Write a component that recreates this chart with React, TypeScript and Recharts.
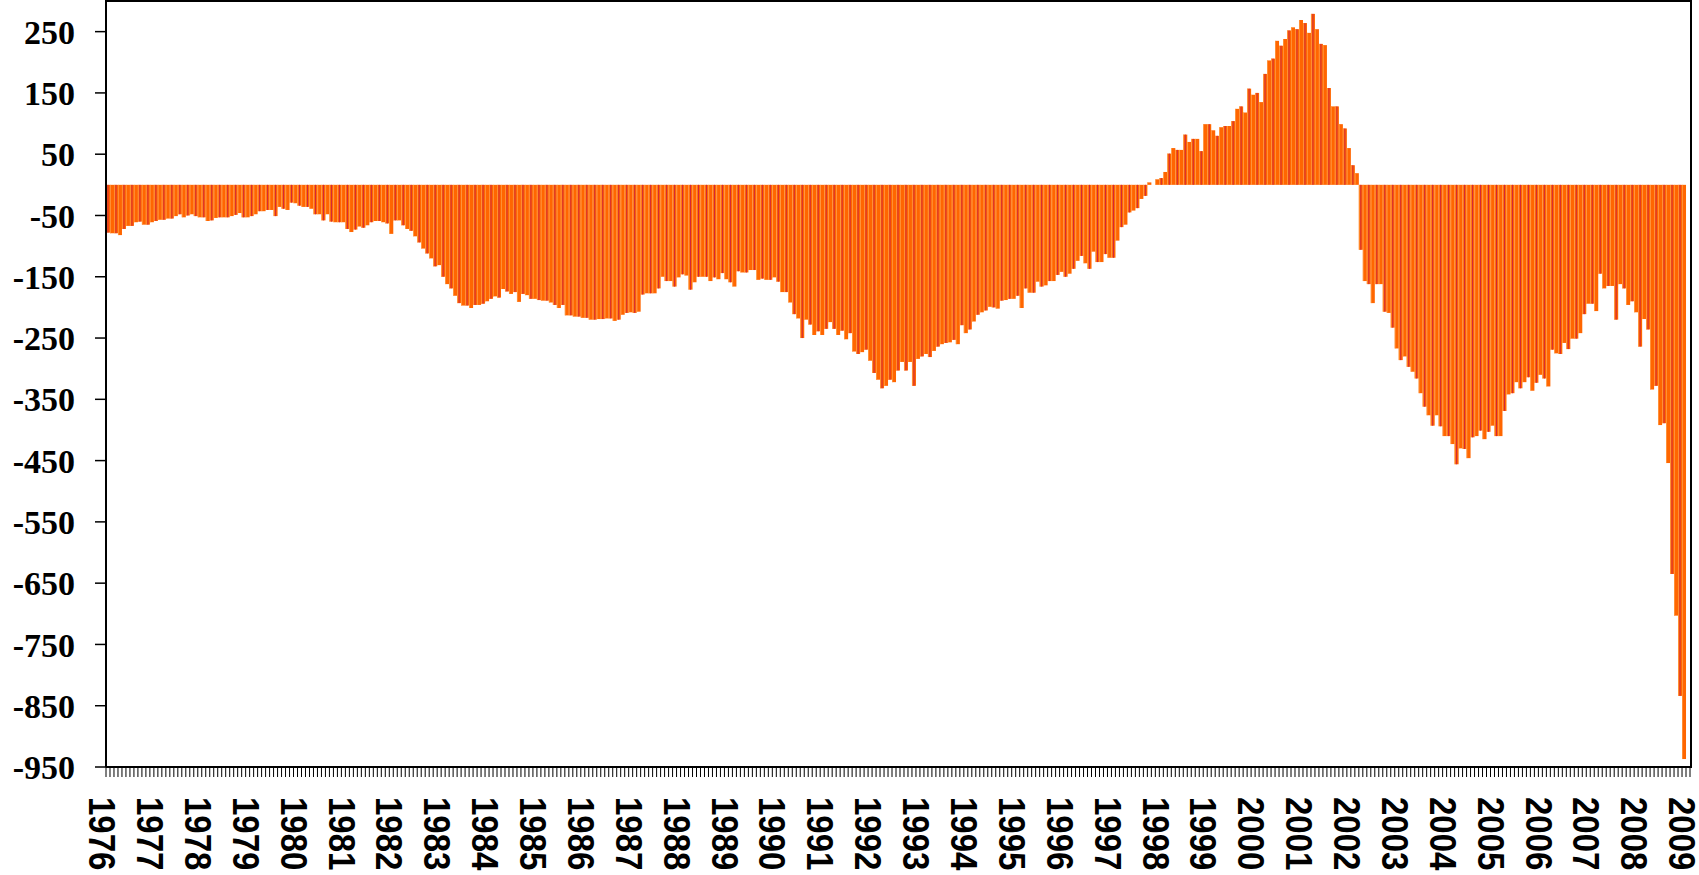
import React from 'react';
import { BarChart, Bar, XAxis, YAxis } from 'recharts';

// monthly values, Jan 1976 .. Dec 2008 (Jan 2009 has no bar)
const v1976to1981 = [
  -78, -79, -79, -82, -72, -67, -67, -61, -60, -65, -65, -61,
  -59, -57, -57, -55, -55, -51, -48, -53, -50, -48, -51, -53,
  -53, -59, -58, -54, -53, -53, -53, -51, -49, -46, -53, -53,
  -51, -48, -43, -43, -41, -41, -51, -36, -39, -41, -29, -30,
  -34, -36, -36, -39, -48, -48, -58, -48, -60, -61, -61, -61,
  -72, -77, -73, -68, -70, -66, -61, -59, -59, -61, -63, -80,
];
const v1982to1987 = [
  -58, -58, -66, -72, -75, -84, -94, -104, -112, -120, -133, -131,
  -150, -162, -169, -181, -193, -197, -197, -201, -196, -196, -194, -190,
  -186, -182, -184, -170, -174, -178, -175, -191, -178, -180, -186, -186,
  -188, -189, -189, -192, -196, -201, -196, -213, -213, -215, -215, -217,
  -217, -220, -220, -219, -219, -218, -218, -222, -220, -212, -209, -208,
  -209, -207, -179, -177, -177, -177, -169, -150, -157, -157, -166, -151,
];
const v1988to1993 = [
  -146, -148, -171, -159, -150, -150, -150, -157, -151, -154, -144, -154,
  -159, -166, -141, -143, -143, -139, -139, -155, -153, -155, -155, -151,
  -158, -175, -175, -192, -211, -218, -250, -220, -228, -245, -239, -245,
  -235, -224, -235, -245, -238, -252, -242, -272, -276, -273, -269, -287,
  -307, -318, -332, -328, -318, -322, -303, -289, -303, -289, -328, -284,
  -280, -276, -281, -271, -264, -260, -258, -257, -253, -260, -229, -242,
];
const v1994to1999 = [
  -236, -223, -212, -208, -205, -199, -200, -202, -189, -188, -186, -186,
  -181, -201, -169, -176, -176, -158, -166, -164, -157, -157, -147, -142,
  -150, -145, -137, -124, -116, -128, -137, -109, -126, -126, -113, -119,
  -119, -91, -69, -65, -45, -42, -38, -23, -18, 4, 0, 9,
  11, 21, 51, 60, 57, 57, 82, 70, 75, 75, 55, 99,
  99, 89, 80, 94, 96, 96, 104, 124, 128, 118, 157, 147,
];
const v2000to2005 = [
  150, 135, 181, 203, 206, 235, 227, 238, 252, 257, 254, 269,
  264, 248, 279, 254, 230, 228, 158, 128, 128, 99, 92, 60,
  32, 19, -106, -157, -162, -193, -162, -162, -207, -209, -233, -267,
  -286, -280, -297, -305, -316, -340, -362, -376, -393, -376, -394, -410,
  -410, -423, -456, -430, -431, -446, -412, -410, -401, -415, -403, -393,
  -410, -410, -369, -342, -340, -322, -332, -322, -314, -336, -323, -310,
];
const v2006to2008 = [
  -316, -329, -269, -275, -276, -258, -268, -251, -251, -242, -211, -194,
  -194, -206, -145, -169, -165, -165, -220, -162, -169, -196, -190, -208,
  -264, -219, -236, -334, -328, -392, -389, -454, -635, -703, -834, -937,
];

const firstYear = 1976;
const lastYear = 2009;
const yTicks = [250, 150, 50, -50, -150, -250, -350, -450, -550, -650, -750, -850, -950];

const values = [...v1976to1981, ...v1982to1987, ...v1988to1993, ...v1994to1999, ...v2000to2005, ...v2006to2008];

const months: string[] = [];
for (let y = firstYear; y < lastYear; y++) {
  for (let m = 1; m <= 12; m++) months.push(`${y}-${String(m).padStart(2, '0')}`);
}
months.push(`${lastYear}-01`);

const data = months.map((m, i) => ({ m, v: i < values.length ? values[i] : null }));

const PLOT_W = 1584;
const BAND = PLOT_W / months.length;

const BarShape = (props: any) => {
  const { x, y, width, height, index } = props;
  if (height == null || isNaN(height)) return null;
  const top = Math.min(y, y + height);
  const h = Math.abs(height);
  return (
    <g>
      <rect x={x} y={top} width={width} height={h} fill="#FF6600" />
      <rect x={x} y={top} width={0.7} height={h} fill="#FFA04A" />
      {index % 2 === 0 && <rect x={x + width / 2 - 0.5} y={top} width={1} height={h} fill="#D2263A" />}
    </g>
  );
};

const MonthTick = (props: any) => {
  const { x, y, payload, index } = props;
  const value: string = payload.value;
  const isJan = value.endsWith('-01');
  const bx = x - BAND / 2;
  const last = index === months.length - 1;
  return (
    <g>
      <line x1={bx} x2={bx} y1={y} y2={y + 10} stroke="#000" strokeWidth={1} />
      {last && <line x1={bx + BAND} x2={bx + BAND} y1={y} y2={y + 10} stroke="#000" strokeWidth={1} />}
      {isJan && (
        <text
          transform={`translate(${bx - 3.5},${y + 30}) rotate(90) scale(1,1.12)`}
          dy="0.36em"
          textAnchor="start"
          fontFamily='"Liberation Sans", Arial, sans-serif'
          fontWeight="bold"
          fontSize={33}
          fill="#000"
        >
          {value.slice(0, 4)}
        </text>
      )}
    </g>
  );
};

export default function App() {
  return (
    <div style={{ position: 'absolute', left: 0, top: 0, background: '#fff' }}>
      <BarChart
        width={1699}
        height={875}
        data={data}
        margin={{ top: 1, right: 9, bottom: 0, left: 0 }}
        barCategoryGap={0}
        barGap={0}
      >
        <XAxis
          dataKey="m"
          interval={0}
          tickLine={false}
          tickSize={0}
          tickMargin={0}
          height={108}
          axisLine={{ stroke: '#000', strokeWidth: 2 }}
          tick={<MonthTick />}
        />
        <YAxis
          domain={[-950, 300]}
          ticks={yTicks}
          allowDataOverflow
          width={106}
          tickSize={11}
          tickMargin={20}
          axisLine={{ stroke: '#000', strokeWidth: 2 }}
          tickLine={{ stroke: '#000', strokeWidth: 1.5 }}
          tick={{ fill: '#000', fontSize: 34, fontWeight: 700, fontFamily: '"Liberation Serif", "Times New Roman", serif' }}
        />
        <Bar dataKey="v" isAnimationActive={false} shape={BarShape} />
      </BarChart>
      {/* top and right frame of the plot area */}
      <div
        style={{
          position: 'absolute',
          left: 105,
          top: 0,
          width: 1587,
          height: 768,
          borderTop: '2px solid #000',
          borderRight: '2px solid #000',
          boxSizing: 'border-box',
          pointerEvents: 'none',
        }}
      />
    </div>
  );
}
